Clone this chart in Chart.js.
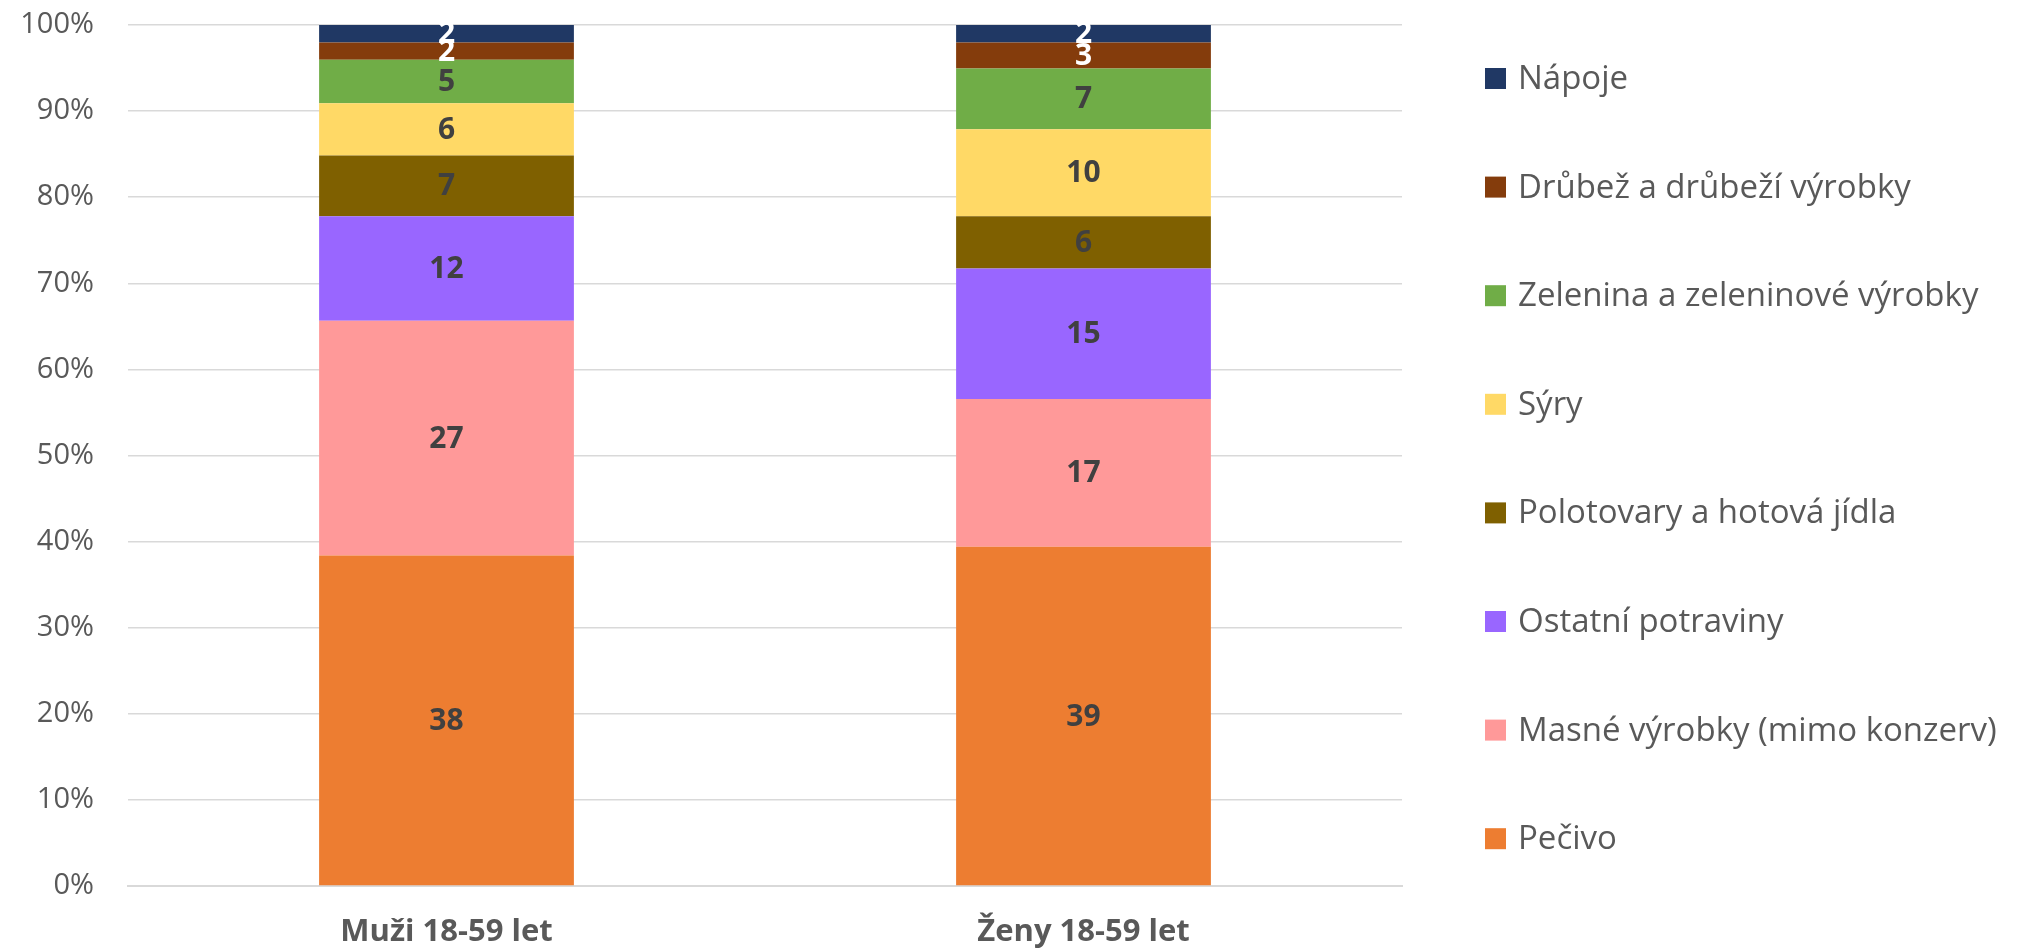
<!DOCTYPE html>
<html>
<head>
<meta charset="utf-8">
<script src="https://cdn.jsdelivr.net/npm/chart.js@4/dist/chart.umd.min.js"></script>
<style>
  html, body { margin: 0; padding: 0; background: #ffffff; }
  #wrap { width: 2018px; height: 951px; position: relative; }
</style>
</head>
<body>
<div id="wrap"><canvas id="chart" width="2018" height="951"></canvas></div>
<script>
// Categories on the x axis
const categories = ['Muži 18-59 let', 'Ženy 18-59 let'];

// Food groups, bottom of the stack first
const seriesNames = [
  'Pečivo',
  'Masné výrobky (mimo konzerv)',
  'Ostatní potraviny',
  'Polotovary a hotová jídla',
  'Sýry',
  'Zelenina a zeleninové výrobky',
  'Drůbež a drůbeží výrobky',
  'Nápoje'
];

// Shares per food group (Muži, Ženy)
const pecivo      = [38, 39];
const masne       = [27, 17];
const ostatni     = [12, 15];
const polotovary  = [7, 6];
const syry        = [6, 10];
const zelenina    = [5, 7];
const drubez      = [2, 3];
const napoje      = [2, 2];

const seriesValues = [pecivo, masne, ostatni, polotovary, syry, zelenina, drubez, napoje];

// Y axis tick values
const yTicks = [0, 10, 20, 30, 40, 50, 60, 70, 80, 90, 100];

// Styling
const seriesColors = ['#ED7D31', '#FF9999', '#9966FF', '#7F6000', '#FFD966', '#70AD47', '#843C0C', '#203864'];
const labelColors  = ['#404040', '#404040', '#404040', '#404040', '#404040', '#404040', '#FFFFFF', '#FFFFFF'];

// 100 % stacking: each column is scaled to its own total
const totals = categories.map((_, i) => seriesValues.reduce((s, arr) => s + arr[i], 0));

const datasets = seriesNames.map((name, k) => ({
  label: name,
  data: seriesValues[k].map((v, i) => v / totals[i] * 100),
  rawValues: seriesValues[k],
  backgroundColor: seriesColors[k],
  borderWidth: 0,
  barPercentage: 1.0,
  categoryPercentage: 0.4,
  labelColor: labelColors[k]
}));

// Value labels centred in every segment
const segmentLabels = {
  id: 'segmentLabels',
  afterDatasetsDraw(chart) {
    const ctx = chart.ctx;
    ctx.save();
    ctx.font = "bold 30px 'Open Sans'";
    ctx.textAlign = 'center';
    ctx.textBaseline = 'middle';
    chart.data.datasets.forEach((ds, di) => {
      const meta = chart.getDatasetMeta(di);
      meta.data.forEach((bar, i) => {
        const p = bar.getProps(['x', 'y', 'base'], true);
        ctx.fillStyle = ds.labelColor;
        ctx.fillText(String(ds.rawValues[i]), p.x, (p.y + p.base) / 2 + 1);
      });
    });
    ctx.restore();
  }
};

// Legend on the right, top item is the top of the stack
const sideLegend = {
  id: 'sideLegend',
  afterDraw(chart, args, opts) {
    const ctx = chart.ctx;
    const area = chart.chartArea;
    ctx.save();
    ctx.font = "33px 'Open Sans'";
    ctx.textAlign = 'left';
    ctx.textBaseline = 'middle';
    const ds = chart.data.datasets.slice().reverse();
    ds.forEach((d, j) => {
      const cy = area.top + opts.firstOffset + j * opts.step;
      ctx.fillStyle = d.backgroundColor;
      ctx.fillRect(opts.x, cy - opts.box / 2, opts.box, opts.box);
      ctx.fillStyle = '#595959';
      ctx.fillText(d.label, opts.x + opts.box + 12, cy + 1);
    });
    ctx.restore();
  }
};

new Chart(document.getElementById('chart'), {
  type: 'bar',
  data: { labels: categories, datasets },
  plugins: [segmentLabels, sideLegend],
  options: {
    responsive: false,
    animation: false,
    layout: { padding: { top: 25, right: 616, left: 0, bottom: 0 } },
    plugins: {
      legend: { display: false },
      tooltip: { enabled: false },
      sideLegend: { x: 1485, box: 21, firstOffset: 53.5, step: 108.6 }
    },
    scales: {
      x: {
        stacked: true,
        grid: { display: false },
        border: { display: true, color: '#d9d9d9', width: 2 },
        ticks: {
          color: '#595959',
          padding: 20,
          font: { family: "'Open Sans'", weight: 'bold', size: 31 }
        },
        afterFit(scale) { scale.height = 65; }
      },
      y: {
        stacked: true,
        min: 0,
        max: 100,
        afterBuildTicks(scale) { scale.ticks = yTicks.map(v => ({ value: v })); },
        grid: { color: '#d9d9d9', lineWidth: 1.5, drawTicks: true, tickLength: 34, tickColor: 'rgba(0,0,0,0)' },
        border: { display: false },
        ticks: {
          color: '#595959',
          padding: 0,
          font: { family: "'Open Sans'", size: 29 },
          callback: v => v + '%'
        },
        afterFit(scale) { scale.width = 128; }
      }
    }
  }
});
</script>
</body>
</html>
